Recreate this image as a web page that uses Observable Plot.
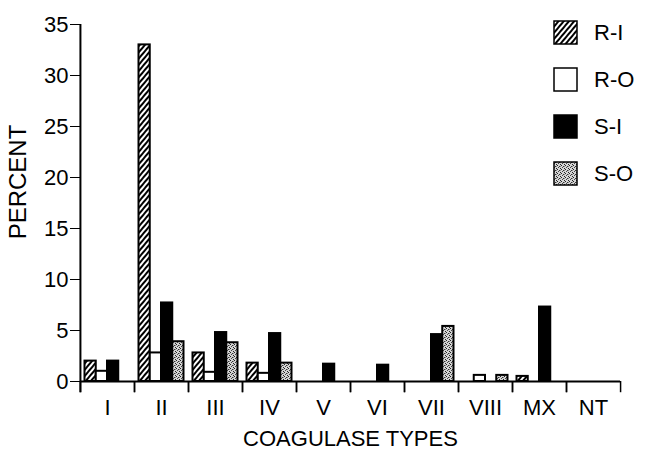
<!DOCTYPE html>
<html><head><meta charset="utf-8">
<script src="https://cdn.jsdelivr.net/npm/d3@7"></script>
<script src="https://cdn.jsdelivr.net/npm/@observablehq/plot@0.6"></script>
<style>
body{margin:0;background:#fff;font-family:"Liberation Sans",Arial,sans-serif;}
#wrap{position:relative;width:656px;height:452px;}
#legend{position:absolute;left:553px;top:20px;}
.item{display:flex;align-items:center;height:25px;margin-bottom:22px;font-size:22px;color:#000;}
.item svg{margin-right:16px;display:block;}
#ylabel{position:absolute;left:18px;top:182px;transform:translate(-50%,-50%) rotate(-90deg);font-size:24px;color:#000;white-space:nowrap;line-height:1;}
</style></head><body>
<svg width="0" height="0" style="position:absolute">
<defs>
<pattern id="hatch" patternUnits="userSpaceOnUse" width="4" height="4" patternTransform="rotate(40)">
 <rect width="4" height="4" fill="#fff"/>
 <line x1="1" y1="0" x2="1" y2="4" stroke="#000" stroke-width="2"/>
</pattern>
<pattern id="stip" patternUnits="userSpaceOnUse" width="4" height="4">
 <rect width="4" height="4" fill="#d4d4d4"/>
 <rect x="0" y="0" width="1" height="1" fill="#222"/>
 <rect x="2" y="1" width="1" height="1" fill="#333"/>
 <rect x="1" y="2" width="1" height="1" fill="#444"/>
 <rect x="3" y="3" width="1" height="1" fill="#222"/>
 <rect x="3" y="1" width="1" height="1" fill="#888"/>
</pattern>
</defs>
</svg>
<div id="wrap"><div id="chart"></div><div id="ylabel">PERCENT</div><div id="legend"></div></div>
<script>
const categories = ["I","II","III","IV","V","VI","VII","VIII","MX","NT"];
const series = ["R-I","R-O","S-I","S-O"];
const valuesRI = [2.0, 33.0, 2.8, 1.8, 0, 0, 0, 0, 0.5, 0];
const valuesRO = [1.0, 2.8, 0.9, 0.8, 0, 0, 0, 0.6, 0, 0];
const valuesSI = [2.0, 7.7, 4.8, 4.7, 1.7, 1.6, 4.6, 0, 7.3, 0];
const valuesSO = [0, 3.9, 3.8, 1.8, 0, 0, 5.4, 0.6, 0, 0];
const yTicks = [0,5,10,15,20,25,30,35];
const fills = {"R-I":"url(#hatch)","R-O":"#fff","S-I":"#000","S-O":"url(#stip)"};

const seriesValues = {"R-I":valuesRI,"R-O":valuesRO,"S-I":valuesSI,"S-O":valuesSO};
const rows = [];
categories.forEach((c,i)=>series.forEach(s=>{
  const v = seriesValues[s][i];
  if (v > 0) rows.push({cat:c, series:s, value:v});
}));

const plot = Plot.plot({
  width:656, height:452,
  marginLeft:78, marginRight:34, marginTop:24, marginBottom:71,
  style:{fontFamily:"'Liberation Sans', Arial, sans-serif", fontSize:"22px", color:"#000", background:"#fff"},
  fx:{domain:categories, padding:0, label:"COAGULASE TYPES", labelAnchor:"center", tickSize:0, tickPadding:18, labelOffset:64, axis:"bottom"},
  x:{domain:series, paddingInner:0, paddingOuter:0.4, axis:null, round:false},
  y:{domain:[0,35], ticks:yTicks, tickSize:10, tickPadding:2, label:null},
  color:{type:"identity"},
  marks:[
    Plot.barY(rows,{fx:"cat", x:"series", y:"value", fill:d=>fills[d.series], stroke:"#000", strokeWidth:2}),
    Plot.ruleY([0],{stroke:"#000", strokeWidth:2}),
    Plot.ruleX(categories,{fx:d=>d, x:()=>"R-I", y1:0, y2:-1.1, dx:-10.2, stroke:"#000", strokeWidth:1.5}),
    Plot.ruleX(categories,{fx:d=>d, x:()=>"S-O", y1:0, y2:-1.1, dx:10.2, stroke:"#000", strokeWidth:1.5}),
    Plot.ruleX(["I"],{fx:d=>d, x:()=>"R-I", y1:35, y2:-1.1, dx:-10.2, stroke:"#000", strokeWidth:2})
  ]
});
document.getElementById("chart").appendChild(plot);

const legend = document.getElementById("legend");
series.forEach(s=>{
  const item = document.createElement("div");
  item.className = "item";
  item.innerHTML = `<svg width="25" height="25"><rect x="1" y="1" width="23" height="23" fill="${fills[s]}" stroke="#000" stroke-width="1.5"/></svg><span>${s}</span>`;
  legend.appendChild(item);
});
</script>
</body></html>
